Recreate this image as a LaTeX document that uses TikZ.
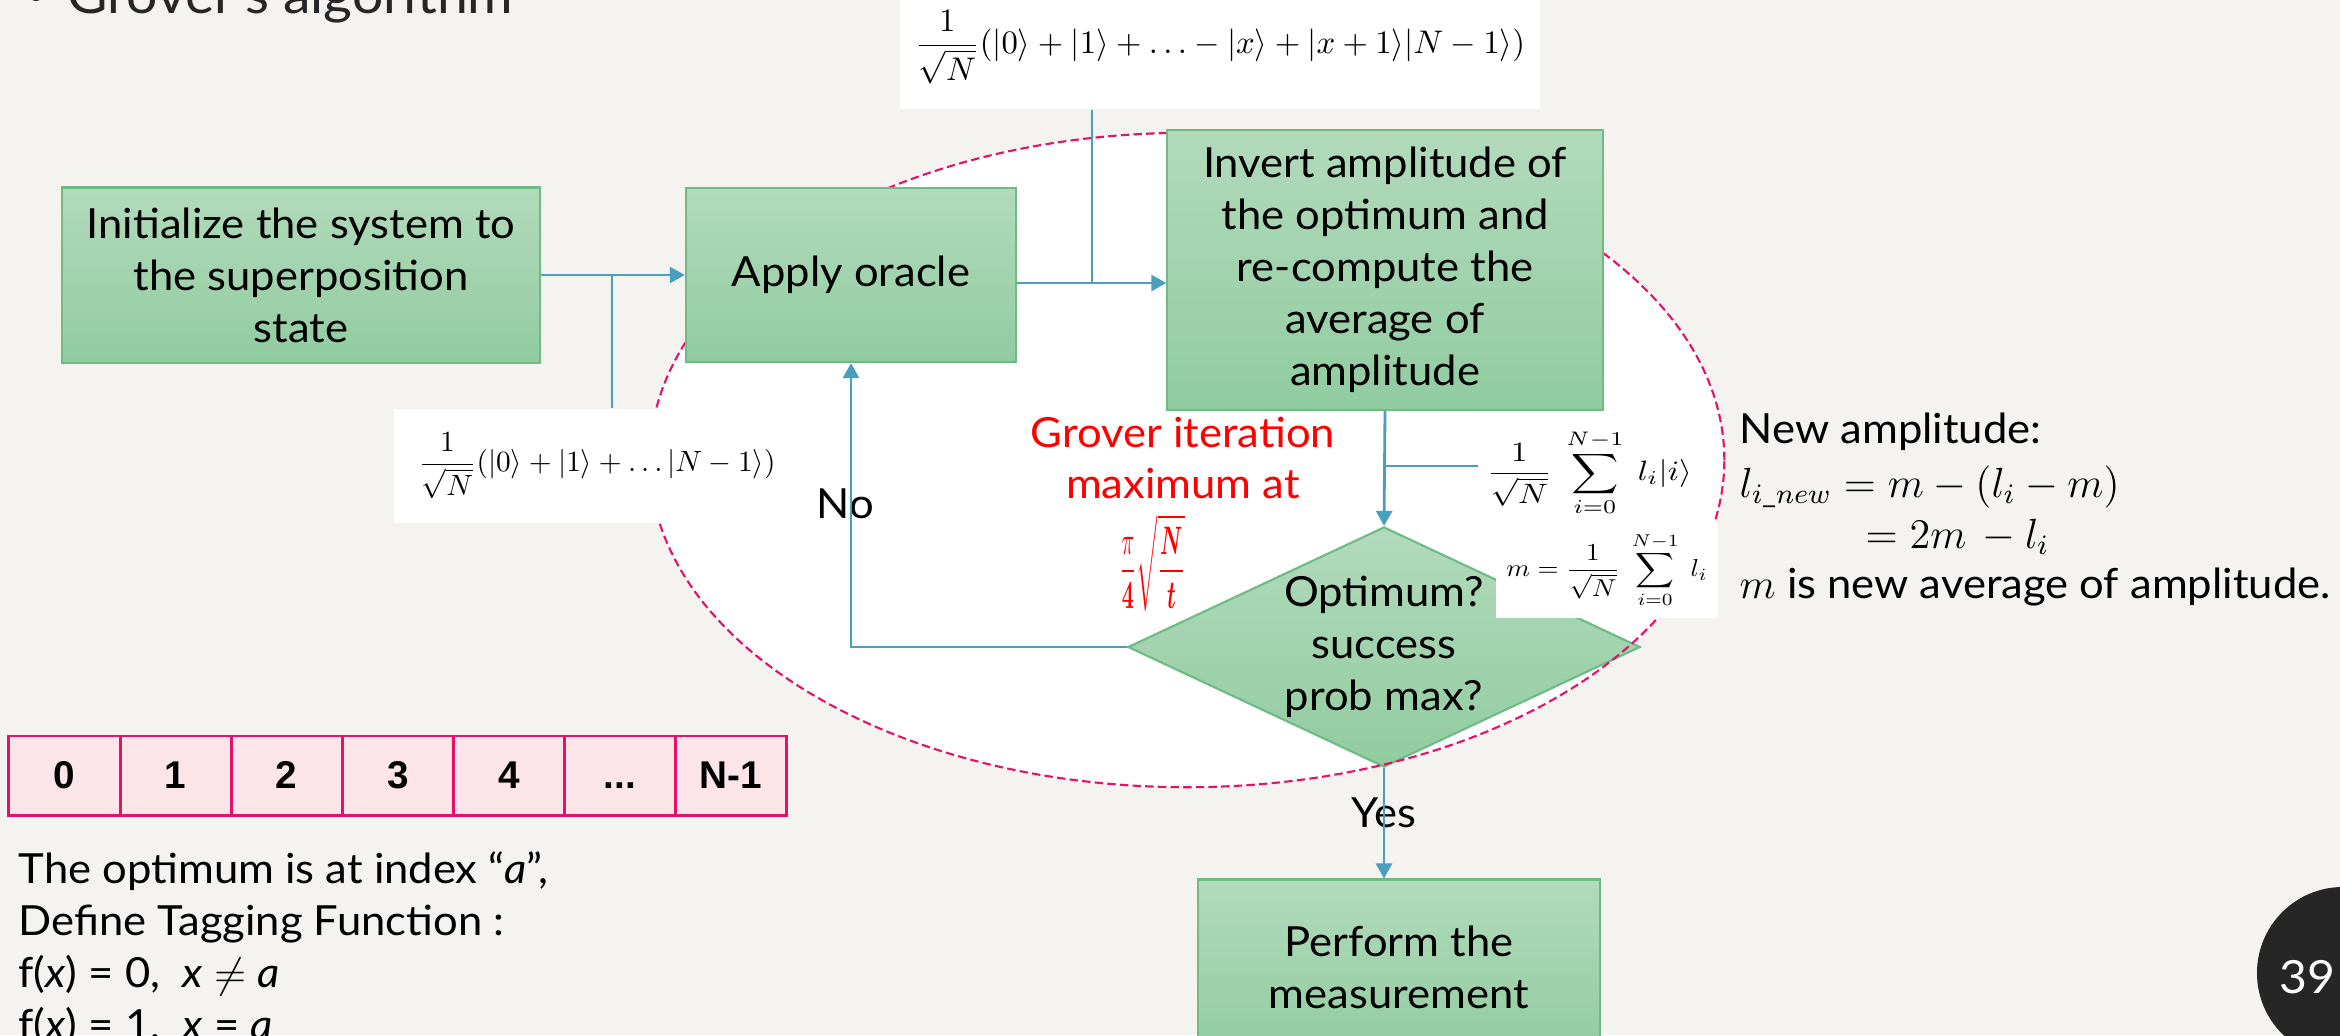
\documentclass[tikz,border=0pt]{standalone}
\usepackage{amsmath}
\usepackage[no-math]{fontspec}
\setmainfont{Lato}[FakeStretch=1.05]
\newfontfamily\cellfont{Liberation Sans}
\usetikzlibrary{shapes.geometric,arrows.meta}

\definecolor{paper}{RGB}{244,243,239}
\definecolor{titlegray}{RGB}{38,38,38}
\definecolor{greentop}{RGB}{178,218,187}
\definecolor{greenbot}{RGB}{145,204,160}
\definecolor{greenline}{RGB}{110,187,132}
\definecolor{flowblue}{RGB}{72,160,190}
\definecolor{loopred}{RGB}{228,18,104}
\definecolor{cellfill}{RGB}{251,229,233}

\newcommand{\bodysize}{\fontsize{11.8}{14.8}\selectfont}
\newcommand{\threedots}{...}

\begin{document}
\begin{tikzpicture}[x=0.01cm, y=-0.01cm,
  proc/.style={rectangle, draw=greenline, line width=0.6pt, top color=greentop,
    bottom color=greenbot, align=center, font=\bodysize, inner sep=0pt},
  decide/.style={diamond, aspect=2.13, draw=greenline, line width=0.6pt, top color=greentop,
    bottom color=greenbot, align=center, font=\bodysize, inner sep=0pt,
    minimum width=5.12cm, minimum height=2.40cm},
  flow/.style={draw=flowblue, line width=0.8pt, -{Triangle[length=0.15cm,width=0.16cm]}},
  tap/.style={draw=flowblue, line width=0.55pt},
  eqbox/.style={fill=white, inner sep=0pt},
  cell/.style={rectangle, draw=loopred, line width=0.85pt, fill=cellfill,
    minimum width=1.111cm, minimum height=0.79cm, text height=0.72em, text depth=0pt,
    font=\cellfont\bfseries\fontsize{11}{13}\selectfont},
  txt/.style={font=\bodysize, inner sep=0pt, anchor=base west},
]
  % page, coordinates in pixels (y down)
  \useasboundingbox (0,0) rectangle (2340,1035);
  \clip (0,0) rectangle (2340,1035);
  \fill[paper] (0,0) rectangle (2340,1035);

  % title, cut by the top edge
  \fill[titlegray] (36,-6) circle (0.07cm);
  \node[anchor=base west, inner sep=0pt, text=titlegray,
    font=\fontsize{15}{18}\selectfont] (title) at (67,13) {Grover’s algorithm};

  % loop region: white inside, dashed rim over the diamond
  \fill[white] (1187,460) ellipse (5.37cm and 3.27cm);
  \node[decide] (dec) at (1384,647) {Optimum?\\success\\prob max?};
  \draw[loopred, line width=0.6pt, dash pattern=on 2.4pt off 1.2pt]
    (1187,460) ellipse (5.37cm and 3.27cm);

  % steps
  \node[proc, minimum width=4.77cm, minimum height=1.75cm] (init) at (301,275)
    {Initialize the system to\\the superposition\\state};
  \node[proc, minimum width=3.30cm, minimum height=1.74cm] (oracle) at (851,275)
    {Apply oracle};
  \node[proc, minimum width=4.35cm, minimum height=2.80cm] (invert) at (1385,270)
    {Invert amplitude of\\the optimum and\\re-compute the\\average of\\amplitude};
  \node[proc, minimum width=4.02cm, minimum height=1.75cm] (measure) at (1399,967)
    {Perform the\\measurement};

  % state formulas
  \node[eqbox, minimum width=6.39cm, minimum height=1.24cm] (f2) at (1220,47)
    {\resizebox{6.1cm}{!}{$\displaystyle\frac{1}{\sqrt{N}}(|0\rangle+|1\rangle+\ldots-|x\rangle+|x+1\rangle|N-1\rangle)$}};
  \node[eqbox, minimum width=4.05cm, minimum height=1.14cm] (f1) at (597,466)
    {\resizebox{3.57cm}{!}{$\displaystyle\frac{1}{\sqrt{N}}(|0\rangle+|1\rangle+\ldots|N-1\rangle)$}};
  \node[inner sep=0pt, anchor=west] (s1) at (1486,473)
    {\resizebox*{2.05cm}{0.87cm}{$\displaystyle\frac{1}{\sqrt{N}}\;\sum_{i=0}^{N-1}\; l_i|i\rangle$}};
  \node[eqbox, minimum width=2.22cm, minimum height=0.95cm] (s2) at (1607,570)
    {\resizebox*{2.01cm}{0.76cm}{$\displaystyle m=\frac{1}{\sqrt{N}}\;\sum_{i=0}^{N-1}\; l_i$}};

  % iteration count
  \node[txt, anchor=base, text=red] (iter1) at (1183,447) {Grover iteration};
  \node[txt, anchor=base, text=red] (iter2) at (1183,498) {maximum at};
  \node[inner sep=0pt, text=red] (tmax) at (1152,563)
    {\resizebox*{0.66cm}{0.97cm}{$\displaystyle\frac{\pi}{\mathbf{4}}\sqrt{\frac{\boldsymbol{N}}{\boldsymbol{t}}}$}};

  \node[txt, anchor=base] (no) at (845,518) {No};
  \node[txt, anchor=base] (yes) at (1384,827) {Yes};

  % new amplitude
  \node[txt] (r1) at (1739,443) {New amplitude:};
  \node[txt] (r2) at (1739,497) {$l_{i\_new} = m - (l_i - m)$};
  \node[txt] (r3) at (1865,548) {$= 2m \,- l_i$};
  \node[txt] (r4) at (1739,598) {$m$ is new average of amplitude.};

  % index array
  \foreach \lab [count=\k] in {0,1,2,3,4,\threedots,N-1}
    \node[cell] (c\k) at ({64.5+111.1*(\k-1)},775.5) {\lab};

  \node[txt] (t1) at (18,883) {The optimum is at index “\textit{a}”,};
  \node[txt] (t2) at (18,935) {Define Tagging Function :};
  \node[txt] (t3) at (18,987) {f(\textit{x}) = 0,\ \ \textit{x} $\neq$ \textit{a}};
  \node[txt] (t4) at (18,1039) {f(\textit{x}) = 1,\ \ \textit{x} = \textit{a}};

  % slide number
  \fill[titlegray] (2343,973) circle (0.86cm);
  \node[anchor=base, inner sep=0pt, text=white, font=\fontsize{13}{15}\selectfont]
    (pg) at (2307,993) {39};

  % connectors
  \draw[flow] (init.east) -- (oracle.west);
  \coordinate (j1) at (612,275);
  \draw[tap] (j1) -- (j1 |- f1.north);
  \coordinate (j2) at (1092,283);
  \draw[flow] (oracle.east |- j2) -- (invert.west |- j2);
  \draw[tap] (j2) -- (j2 |- f2.south);
  \draw[flow] (invert.south) -- (dec.north);
  \coordinate (j3) at (1385,466);
  \draw[tap] (j3) -- ([xshift=-0.08cm]s1.west |- j3);
  \draw[flow] (dec.west) -| (oracle.south);
  \draw[flow] (dec.south) -- (dec.south |- measure.north);
\end{tikzpicture}
\end{document}
